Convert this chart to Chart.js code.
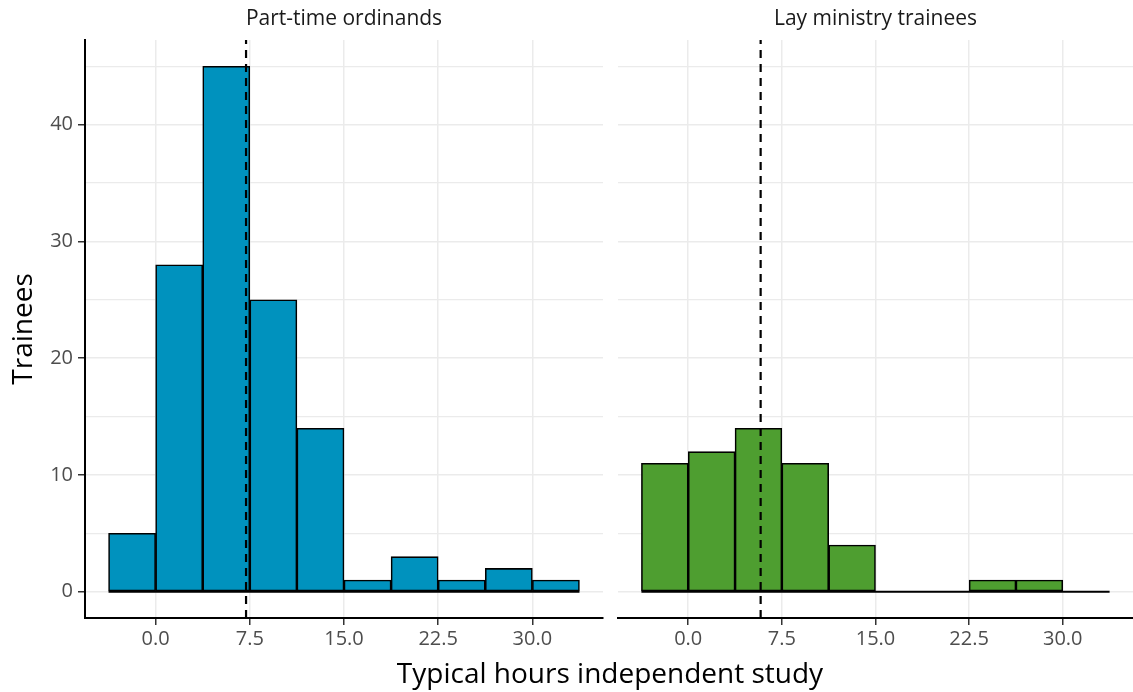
<!DOCTYPE html>
<html>
<head>
  <title>Independent study hours</title>
  <script src="https://cdn.jsdelivr.net/npm/chart.js"></script>
  <style>
    body { margin: 0; background: #fff; font-family: "Open Sans", sans-serif; }
    #wrap { position: relative; width: 1133px; height: 692px; }
    canvas { position: absolute; top: 0; }
    #xtitle { position: absolute; left: 0; width: 1220px; top: 655px; line-height: 34px; text-align: center; font-size: 28px; color: #000; }
  </style>
</head>
<body>
  <div id="wrap">
    <canvas id="leftChart" width="610" height="692" style="left:0"></canvas>
    <canvas id="rightChart" width="523" height="692" style="left:610px"></canvas>
    <div id="xtitle">Typical hours independent study</div>
  </div>

  <script>
    const binCenters = [-1.875, 1.875, 5.625, 9.375, 13.125, 16.875, 20.625, 24.375, 28.125, 31.875];
    const binWidth = 3.75;
    const partTime = [5, 28, 45, 25, 14, 1, 3, 1, 2, 1];
    const layMinistry = [11, 12, 14, 11, 4, 0, 0, 1, 1, 0];
    const means = [7.2, 5.8];
    const panelTitles = ['Part-time ordinands', 'Lay ministry trainees'];
    const xTicks = [0, 7.5, 15, 22.5, 30];
    const yTicks = [0, 10, 20, 30, 40];
    const yGrid = [0, 5, 10, 15, 20, 25, 30, 35, 40, 45];

    const xMin = -5.625, xMax = 35.625;
    const yMin = -2.25, yMax = 47.25;
    const gridCol = '#ebebeb';
    const tickCol = '#4d4d4d';
    const font = 'Open Sans';

    function makePanel(id, counts, mean, title, color, isLeft) {
      const lo = binCenters[0] - binWidth / 2;
      const hi = binCenters[binCenters.length - 1] + binWidth / 2;
      return new Chart(document.getElementById(id), {
        type: 'bar',
        data: {
          datasets: [
            {
              data: binCenters.map((c, i) => ({ x: c, y: counts[i] })),
              backgroundColor: color,
              borderColor: '#000',
              borderWidth: 1.6,
              borderSkipped: false,
              barPercentage: 1,
              categoryPercentage: 1,
              order: 3
            },
            {
              type: 'line',
              data: [{ x: lo, y: 0 }, { x: hi, y: 0 }],
              borderColor: '#000',
              borderWidth: 2,
              pointRadius: 0,
              order: 2
            },
            {
              type: 'line',
              data: [{ x: mean, y: yMin }, { x: mean, y: yMax }],
              borderColor: '#000',
              borderWidth: 2.2,
              borderDash: [8, 6],
              pointRadius: 0,
              order: 1
            }
          ]
        },
        options: {
          responsive: false,
          animation: false,
          layout: { padding: isLeft ? { left: 0, right: 7, top: 0, bottom: 34 } : { left: 8, right: 0, top: 0, bottom: 34 } },
          plugins: {
            legend: { display: false },
            tooltip: { enabled: false },
            title: {
              display: true,
              text: title,
              fullSize: false,
              color: '#1a1a1a',
              font: { family: font, size: 21, weight: 'normal' },
              padding: { top: 6, bottom: 8.8 }
            }
          },
          scales: {
            x: {
              type: 'linear',
              min: xMin,
              max: xMax,
              offset: false,
              afterBuildTicks: s => { s.ticks = xTicks.map(v => ({ value: v })); },
              afterFit: s => { s.height = 40; },
              grid: { offset: false, color: gridCol, lineWidth: 1.5, tickColor: '#333', tickLength: 7 },
              border: { display: true, color: '#000', width: 2 },
              ticks: {
                color: tickCol,
                padding: 2,
                maxRotation: 0,
                font: { family: font, size: 20 },
                callback: v => v.toFixed(1)
              }
            },
            y: {
              min: yMin,
              max: yMax,
              afterBuildTicks: s => { s.ticks = yGrid.map(v => ({ value: v })); },
              afterFit: s => { s.width = isLeft ? 85 : 0; },
              grid: {
                color: gridCol,
                lineWidth: c => (c.tick && yTicks.includes(c.tick.value)) ? 1.5 : 1.2,
                drawTicks: isLeft,
                tickLength: 7,
                tickColor: c => (c.tick && yTicks.includes(c.tick.value)) ? '#333' : 'rgba(0,0,0,0)'
              },
              border: { display: isLeft, color: '#000', width: 2 },
              title: {
                display: isLeft,
                text: 'Trainees',
                color: '#000',
                font: { family: font, size: 28 },
                padding: { top: 7, bottom: 0 }
              },
              ticks: {
                display: isLeft,
                color: tickCol,
                padding: 5,
                font: { family: font, size: 20 },
                callback: v => yTicks.includes(v) ? String(v) : ''
              }
            }
          }
        }
      });
    }

    makePanel('leftChart', partTime, means[0], panelTitles[0], '#0092BE', true);
    makePanel('rightChart', layMinistry, means[1], panelTitles[1], '#4E9E30', false);
  </script>
</body>
</html>
